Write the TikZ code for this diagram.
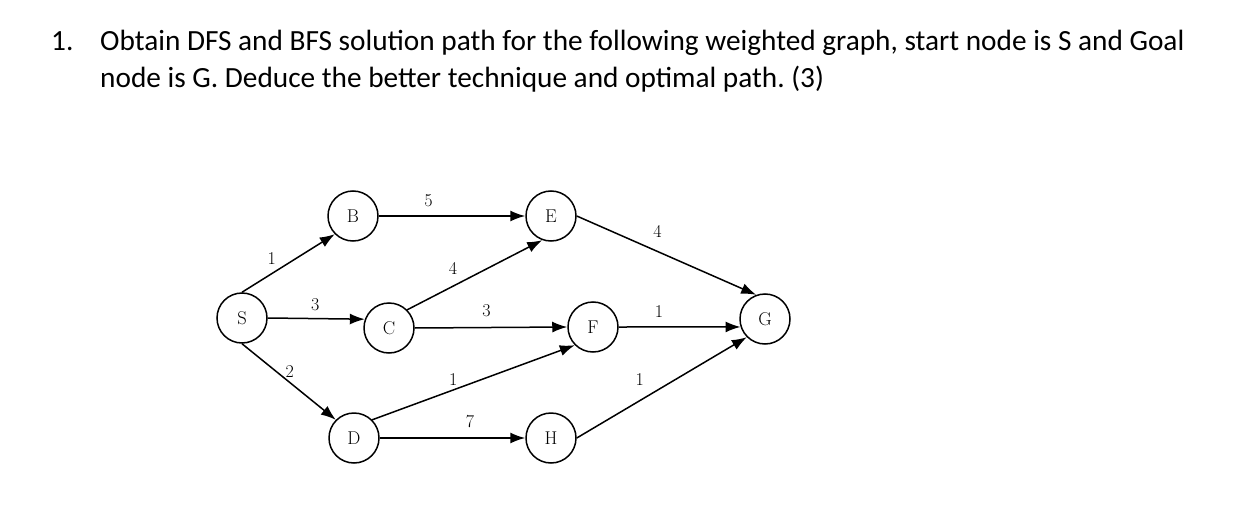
\documentclass[tikz,border=0pt]{standalone}
\usepackage{fontspec}
\newfontfamily\qfont{Carlito}
\usetikzlibrary{arrows.meta}
\frenchspacing
\tikzset{
  vertex/.style={draw, circle, minimum size=50pt, inner sep=0pt, line width=1.5pt,
    font=\fontsize{18.5}{20}\selectfont},
  edge/.style={line width=1.5pt, -{Latex[length=15pt,width=11pt]}},
  wt/.style={font=\fontsize{18}{20}\selectfont, inner sep=2pt},
  qtext/.style={anchor=base west, inner sep=0pt, font=\qfont\fontsize{29.3}{37}\selectfont}
}
\begin{document}
\begin{tikzpicture}[x=1pt,y=-1pt]
      \useasboundingbox (0,0) rectangle (1260,516);
      % question
      \node[qtext] (num) at (51,51) {1.};
      \node[qtext] (line1) at (100,51) {Obtain DFS and BFS solution path for the following weighted graph, start node is S and Goal};
      \node[qtext] (line2) at (100,88) {node is G. Deduce the better technique and optimal path. (3)};
      % vertices
      \node[vertex] (S) at (242,318) {S};
      \node[vertex] (B) at (353,216) {B};
      \node[vertex] (C) at (389,328) {C};
      \node[vertex] (D) at (354,438) {D};
      \node[vertex] (E) at (551,216) {E};
      \node[vertex] (F) at (593,327) {F};
      \node[vertex] (H) at (551,438) {H};
      \node[vertex] (G) at (765,319) {G};
      % edges
      \draw[edge] (S.north) -- (B.south west) node[wt,pos=0.32,above=6pt] {1};
      \draw[edge] (S.east) -- (C.160) node[wt,pos=0.49,above=5pt] {3};
      \draw[edge] (S.south) -- (D.north west) node[wt,pos=0.51,above=2pt] {2};
      \draw[edge] (B.east) -- (E.west) node[wt,pos=0.34,above=6pt] {5};
      \draw[edge] (C.north east) -- (E.250) node[wt,pos=0.34,above=9pt] {4};
      \draw[edge] (C.east) -- (F.west) node[wt,pos=0.47,above=7.5pt] {3};
      \draw[edge] (D.north east) -- (F.south west) node[wt,pos=0.40,above=2pt] {1};
      \draw[edge] (D.east) -- (H.west) node[wt,pos=0.62,above=7pt] {7};
      \draw[edge] (E.east) -- (G.110) node[wt,pos=0.45,above=11pt] {4};
      \draw[edge] (F.east) -- (G.198) node[wt,pos=0.33,above=7pt] {1};
      \draw[edge] (H.east) -- (G.south west) node[wt,pos=0.37,above=12pt] {1};
\end{tikzpicture}
\end{document}
